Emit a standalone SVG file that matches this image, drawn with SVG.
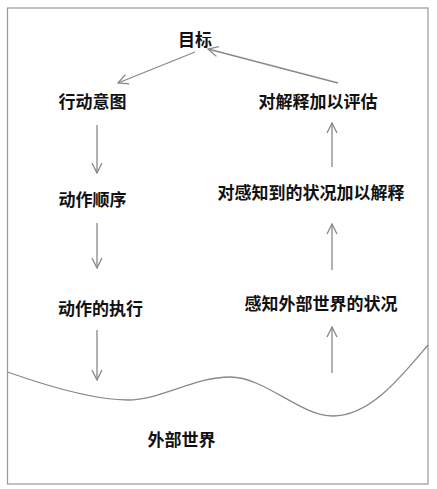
<svg xmlns="http://www.w3.org/2000/svg" width="437" height="489" viewBox="0 0 437 489">
<style>
.t{font-family:"Noto Sans CJK SC","Noto Sans CJK JP",sans-serif;font-size:17px;font-weight:700;fill:#111;text-anchor:middle;dominant-baseline:central}
.c{stroke:#888;stroke-width:1.3;fill:none}
</style>
<defs>
<marker id="ah" viewBox="0 0 12 12" refX="11" refY="6" markerWidth="12" markerHeight="12" markerUnits="userSpaceOnUse" orient="auto">
<path d="M1,1 L11,6 L1,11" fill="none" stroke="#888" stroke-width="1.3"/>
</marker>
</defs>
<rect x="7.5" y="8" width="420.5" height="476" fill="#fff" stroke="#999" stroke-width="1.2"/>
<g id="connectors">
<path class="c" d="M195,52 L118,83" marker-end="url(#ah)"/>
<path class="c" d="M338,83 L208,49" marker-end="url(#ah)"/>
<path class="c" d="M97,125 L97,173" marker-end="url(#ah)"/>
<path class="c" d="M97,223 L97,268" marker-end="url(#ah)"/>
<path class="c" d="M97,330 L97,380" marker-end="url(#ah)"/>
<path class="c" d="M332,167 L332,123" marker-end="url(#ah)"/>
<path class="c" d="M332,270 L332,224" marker-end="url(#ah)"/>
<path class="c" d="M332,373 L332,327" marker-end="url(#ah)"/>
</g>
<path id="wave" class="c" d="M7.5,372 C50,387 95,400 128,400 C160,400 195,377 230,377 C265,377 300,416 333,416 C370,416 400,378 428,345"/>
<g id="goal"><text class="t" x="195" y="38">目标</text></g>
<g id="intent"><text class="t" x="92.5" y="100">行动意图</text></g>
<g id="evaluate"><text class="t" x="318" y="100">对解释加以评估</text></g>
<g id="sequence"><text class="t" x="92.5" y="198">动作顺序</text></g>
<g id="interpret"><text class="t" x="311" y="191">对感知到的状况加以解释</text></g>
<g id="execute"><text class="t" x="100.5" y="307">动作的执行</text></g>
<g id="perceive"><text class="t" x="321" y="302">感知外部世界的状况</text></g>
<g id="world"><text class="t" x="181.5" y="438">外部世界</text></g>
</svg>
